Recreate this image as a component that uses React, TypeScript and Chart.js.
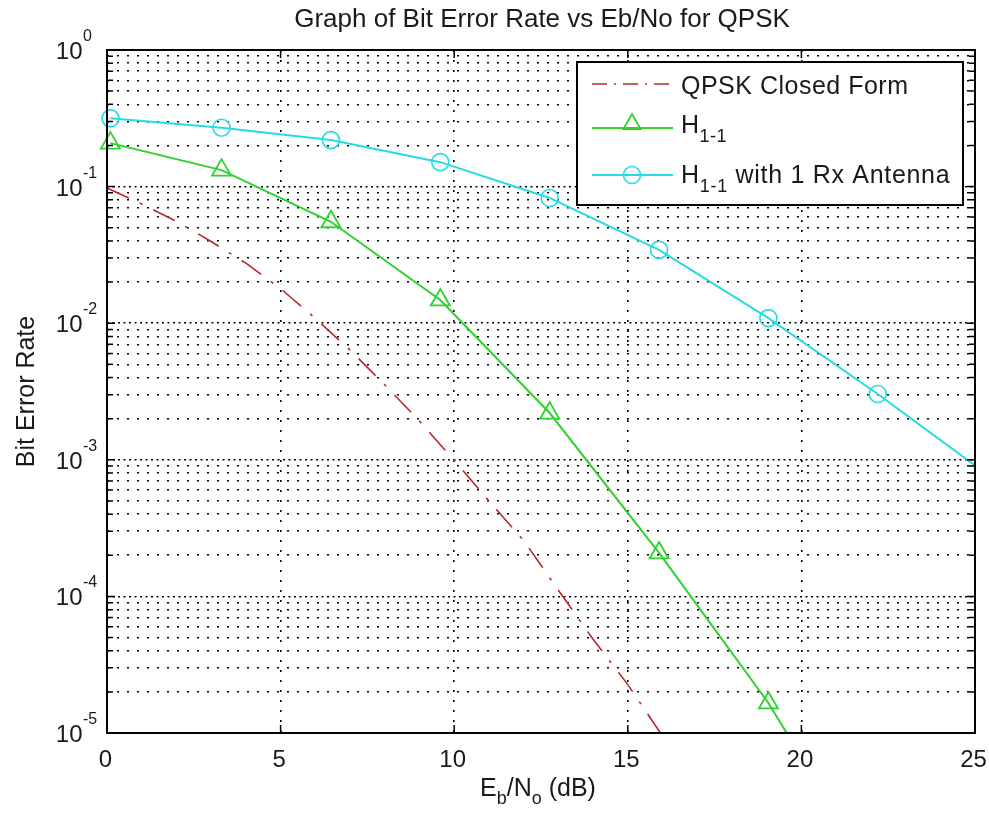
import React, { useEffect, useRef } from "react";
import { Chart, registerables } from "chart.js";

Chart.register(...registerables);

// ---------------- data ----------------
const snrMarkers = [0.1, 3.3, 6.45, 9.6, 12.75, 15.9, 19.05, 22.2, 25.35];
const berH11 = [0.208, 0.132, 0.0553, 0.0148, 0.0022, 2.08e-4, 1.66e-5, 8e-7];
const berH11Rx = [0.316, 0.27, 0.219, 0.151, 0.0826, 0.0344, 0.0109, 0.00303, 7.8e-4];
const snrClosed = [0, 1, 2, 3, 4, 5, 6, 7, 8, 9, 10, 11, 12, 13, 14, 15, 16];
const berClosed = [
  0.0975, 0.0746, 0.0557, 0.0396, 0.0275, 0.0179, 0.01086, 0.00635, 0.00354,
  0.00192, 9.9e-4, 5.0e-4, 2.57e-4, 1.11e-4, 4.86e-5, 2.26e-5, 9.5e-6,
];
const xTickValues = [0, 5, 10, 15, 20, 25];
const yDecades = [0, -1, -2, -3, -4, -5];
const minorFactors = [2, 3, 4, 5, 6, 7, 8, 9];

const titleText = "Graph of Bit Error Rate vs Eb/No for QPSK";
const yTitleText = "Bit Error Rate";
const legendLabels = ["QPSK Closed Form", "H", "H"];

const RED = "#b8292c";
const GREEN = "#2fd22f";
const CYAN = "#26dbe6";
const FONT = '"Liberation Sans", Arial, Helvetica, sans-serif';
const TEXT = "#1a1a1a";

type Part = { t: string; sub?: boolean };

function drawRich(
  ctx: CanvasRenderingContext2D,
  parts: Part[],
  x: number,
  baseline: number,
  size: number,
  subSize: number,
  drop: number,
  align: "left" | "center",
  spacing = 0
) {
  const c: any = ctx;
  const prevSpacing = c.letterSpacing;
  if ("letterSpacing" in c) c.letterSpacing = `${spacing}px`;
  let total = 0;
  const widths = parts.map((p) => {
    ctx.font = `${p.sub ? subSize : size}px ${FONT}`;
    const w = ctx.measureText(p.t).width;
    total += w;
    return w;
  });
  let cx = align === "center" ? x - total / 2 : x;
  ctx.textAlign = "left";
  ctx.textBaseline = "alphabetic";
  parts.forEach((p, i) => {
    ctx.font = `${p.sub ? subSize : size}px ${FONT}`;
    ctx.fillText(p.t, cx, p.sub ? baseline + drop : baseline);
    cx += widths[i];
  });
  if ("letterSpacing" in c) c.letterSpacing = prevSpacing;
}

function drawTriangle(ctx: CanvasRenderingContext2D, x: number, y: number, r: number) {
  ctx.beginPath();
  ctx.moveTo(x, y - r);
  ctx.lineTo(x + Math.sin((2 * Math.PI) / 3) * r, y + 0.5 * r);
  ctx.lineTo(x - Math.sin((2 * Math.PI) / 3) * r, y + 0.5 * r);
  ctx.closePath();
  ctx.stroke();
}

const decorPlugin = {
  id: "decor",
  beforeDraw(chart: any) {
    const ctx = chart.ctx as CanvasRenderingContext2D;
    ctx.save();
    ctx.fillStyle = "#fff";
    ctx.fillRect(0, 0, chart.width, chart.height);
    ctx.restore();
  },
  afterDraw(chart: any) {
    const ctx = chart.ctx as CanvasRenderingContext2D;
    const a = chart.chartArea;
    const xs = chart.scales.x;
    const ys = chart.scales.y;
    ctx.save();

    // axes box
    ctx.setLineDash([]);
    ctx.strokeStyle = "#000";
    ctx.lineWidth = 2;
    ctx.strokeRect(a.left, a.top, a.right - a.left, a.bottom - a.top);

    // ticks on all sides
    ctx.lineWidth = 1.5;
    ctx.beginPath();
    for (const t of ys.ticks) {
      const py = ys.getPixelForValue(t.value);
      const len = t.major ? 8 : 6;
      ctx.moveTo(a.left, py);
      ctx.lineTo(a.left + len, py);
      ctx.moveTo(a.right, py);
      ctx.lineTo(a.right - len, py);
    }
    for (const v of xTickValues) {
      const px = xs.getPixelForValue(v);
      ctx.moveTo(px, a.bottom);
      ctx.lineTo(px, a.bottom - 8);
      ctx.moveTo(px, a.top);
      ctx.lineTo(px, a.top + 8);
    }
    ctx.stroke();

    ctx.fillStyle = TEXT;
    // y tick labels 10^n
    for (const d of yDecades) {
      const py = ys.getPixelForValue(Math.pow(10, d));
      ctx.font = `24px ${FONT}`;
      ctx.textAlign = "right";
      ctx.textBaseline = "alphabetic";
      ctx.fillText("10", 82.5, py + 9);
      ctx.font = `16px ${FONT}`;
      ctx.textAlign = "left";
      ctx.fillText(String(d), 83, py - 9);
    }
    // x tick labels
    ctx.font = `24px ${FONT}`;
    ctx.textAlign = "center";
    for (const v of xTickValues) {
      const px = xs.getPixelForValue(v);
      ctx.fillText(String(v), px - 1.5, 767);
    }

    // title
    ctx.font = `26px ${FONT}`;
    ctx.textAlign = "center";
    ctx.fillText(titleText, (a.left + a.right) / 2 + 1, 27);

    // x title
    drawRich(
      ctx,
      [{ t: "E" }, { t: "b", sub: true }, { t: "/N" }, { t: "o", sub: true }, { t: " (dB)" }],
      538,
      796,
      25,
      18,
      8,
      "center"
    );

    // y title
    ctx.save();
    ctx.translate(27, (a.top + a.bottom) / 2);
    ctx.rotate(-Math.PI / 2);
    ctx.font = `25px ${FONT}`;
    ctx.textAlign = "center";
    ctx.textBaseline = "middle";
    ctx.fillText(yTitleText, 0, 0);
    ctx.restore();

    // legend
    const L = { x0: 577, y0: 62, x1: 963, y1: 205 };
    ctx.fillStyle = "#fff";
    ctx.fillRect(L.x0, L.y0, L.x1 - L.x0, L.y1 - L.y0);
    ctx.strokeStyle = "#000";
    ctx.lineWidth = 2;
    ctx.setLineDash([]);
    ctx.strokeRect(L.x0, L.y0, L.x1 - L.x0, L.y1 - L.y0);

    const sx0 = 592;
    const sx1 = 673;
    const mx = 632;
    // row 1
    ctx.strokeStyle = RED;
    ctx.lineWidth = 1.6;
    ctx.setLineDash([15, 7, 2, 7]);
    ctx.beginPath();
    ctx.moveTo(sx0, 84);
    ctx.lineTo(sx1, 84);
    ctx.stroke();
    ctx.setLineDash([]);
    // row 2
    ctx.strokeStyle = GREEN;
    ctx.lineWidth = 2;
    ctx.beginPath();
    ctx.moveTo(sx0, 128);
    ctx.lineTo(sx1, 128);
    ctx.stroke();
    ctx.lineWidth = 1.8;
    drawTriangle(ctx, mx, 124, 10);
    // row 3
    ctx.strokeStyle = CYAN;
    ctx.lineWidth = 2;
    ctx.beginPath();
    ctx.moveTo(sx0, 175);
    ctx.lineTo(sx1, 175);
    ctx.stroke();
    ctx.lineWidth = 1.6;
    ctx.beginPath();
    ctx.arc(mx, 175, 8.5, 0, Math.PI * 2);
    ctx.stroke();

    ctx.fillStyle = TEXT;
    drawRich(ctx, [{ t: legendLabels[0] }], 681, 94, 25, 17, 9, "left", 0.5);
    drawRich(ctx, [{ t: legendLabels[1] }, { t: "1-1", sub: true }], 681, 133, 25, 18, 9, "left", 0.5);
    drawRich(
      ctx,
      [{ t: legendLabels[2] }, { t: "1-1", sub: true }, { t: " with 1 Rx Antenna" }],
      681,
      183,
      25,
      18,
      9,
      "left",
      0.7
    );

    ctx.restore();
  },
};

export default function App() {
  const ref = useRef<HTMLCanvasElement>(null);
  useEffect(() => {
    const canvas = ref.current!;
    const clip = { left: 14, top: 0, right: 0, bottom: 0 };
    const chart = new Chart(canvas, {
      type: "line",
      data: {
        datasets: [
          {
            label: "QPSK Closed Form",
            data: snrClosed.map((x, i) => ({ x, y: berClosed[i] })),
            borderColor: RED,
            borderWidth: 1.6,
            borderDash: [24, 12, 3, 12],
            pointRadius: 0,
            fill: false,
            tension: 0,
            clip,
          } as any,
          {
            label: "H1-1",
            data: berH11.map((y, i) => ({ x: snrMarkers[i], y })),
            borderColor: GREEN,
            borderWidth: 2,
            pointStyle: "triangle",
            pointRadius: 11,
            pointBorderWidth: 1.8,
            pointBorderColor: GREEN,
            pointBackgroundColor: "rgba(0,0,0,0)",
            fill: false,
            tension: 0,
            clip,
          } as any,
          {
            label: "H1-1 with 1 Rx Antenna",
            data: berH11Rx.map((y, i) => ({ x: snrMarkers[i], y })),
            borderColor: CYAN,
            borderWidth: 2,
            pointStyle: "circle",
            pointRadius: 8.5,
            pointBorderWidth: 1.6,
            pointBorderColor: CYAN,
            pointBackgroundColor: "rgba(0,0,0,0)",
            fill: false,
            tension: 0,
            clip,
          } as any,
        ],
      },
      options: {
        animation: false,
        responsive: false,
        events: [],
        layout: { padding: { left: 107, top: 50, right: 14, bottom: 81 } },
        plugins: {
          legend: { display: false },
          title: { display: false },
          tooltip: { enabled: false },
        },
        scales: {
          x: {
            type: "linear",
            min: 0,
            max: 25,
            ticks: { display: false, stepSize: 5 },
            grid: { color: "#000", lineWidth: 1.6, drawTicks: false },
            border: { display: false, dash: [2, 8] },
            afterFit: (s: any) => {
              s.height = 0;
            },
          },
          y: {
            type: "logarithmic",
            min: 1e-5,
            max: 1,
            ticks: { display: false, autoSkip: false },
            grid: { color: "#000", lineWidth: 1.6, drawTicks: false },
            border: {
              display: false,
              dash: (c: any) => (c.tick && c.tick.major ? [2, 3.5] : [2, 8]),
            },
            afterBuildTicks: (s: any) => {
              const t: any[] = [];
              for (const d of yDecades) {
                t.push({ value: Math.pow(10, d), major: true });
                if (d < 0) {
                  for (const f of minorFactors) {
                    t.push({ value: f * Math.pow(10, d), major: false });
                  }
                }
              }
              t.sort((p, q) => p.value - q.value);
              s.ticks = t;
            },
            afterFit: (s: any) => {
              s.width = 0;
            },
          },
        },
      } as any,
      plugins: [decorPlugin],
    });
    return () => chart.destroy();
  }, []);

  return (
    <div style={{ position: "absolute", left: 0, top: 0, width: 989, height: 814, background: "#fff" }}>
      <canvas ref={ref} width={989} height={814} style={{ display: "block" }} />
    </div>
  );
}
